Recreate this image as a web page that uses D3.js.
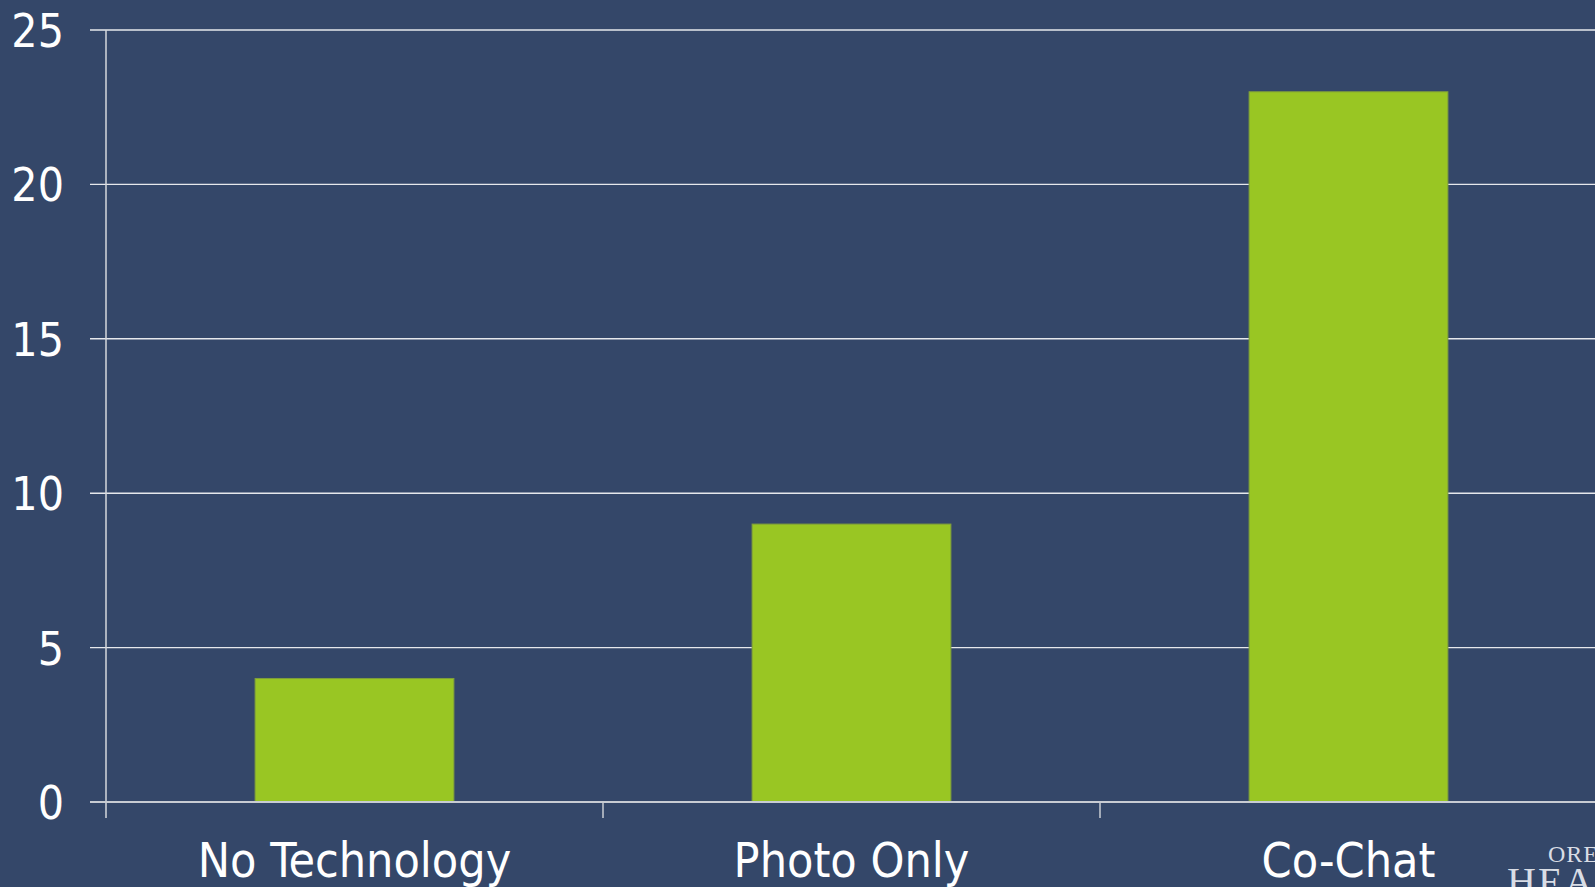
<!DOCTYPE html>
<html>
<head>
<meta charset="utf-8">
<script src="https://cdn.jsdelivr.net/npm/d3@7"></script>
<style>
  html, body { margin: 0; padding: 0; background: #344769; overflow: hidden; }
  svg { display: block; }
</style>
</head>
<body>
<script>
// Chart data
const categories = ["No Technology", "Photo Only", "Co-Chat"];
const values = [4, 9, 23];
const yTicks = [0, 5, 10, 15, 20, 25];

const W = 1595, H = 887;
const margin = { left: 106, top: 30, bottom: 85 };
const font = "'DejaVu Sans Condensed', 'DejaVu Sans', sans-serif";

const svg = d3.select("body").append("svg")
  .attr("width", W).attr("height", H);

svg.append("rect").attr("width", W).attr("height", H).attr("fill", "#344769");

const y = d3.scaleLinear().domain([0, 25]).range([H - margin.bottom, margin.top]);
const x = d3.scaleBand().domain(categories)
  .range([margin.left, margin.left + 3 * 497])
  .paddingInner(0.6).paddingOuter(0.3);

// Horizontal gridlines with short ticks to the left of the value axis
svg.append("g").selectAll("line")
  .data(yTicks.filter(d => d > 0))
  .join("line")
  .attr("x1", margin.left - 16).attr("x2", W)
  .attr("y1", d => y(d)).attr("y2", d => y(d))
  .attr("stroke", "#e6e8ec").attr("stroke-width", 1.4);

// Value axis line
svg.append("line")
  .attr("x1", margin.left).attr("x2", margin.left)
  .attr("y1", y(25)).attr("y2", y(0) + 16)
  .attr("stroke", "#d4d7dd").attr("stroke-width", 1.5);

// Value axis labels
const yAxis = d3.axisLeft(y).tickValues(yTicks).tickSize(0).tickPadding(0);
const gy = svg.append("g").attr("transform", `translate(${margin.left - 42},0)`).call(yAxis);
gy.select(".domain").remove();
gy.selectAll("text")
  .attr("fill", "#ffffff")
  .attr("font-family", font)
  .attr("font-size", 46)
  .attr("dy", "0.36em");

// Bars
svg.append("g").selectAll("rect")
  .data(categories.map((c, i) => ({ c, v: values[i] })))
  .join("rect")
  .attr("x", d => x(d.c))
  .attr("width", x.bandwidth())
  .attr("y", d => y(d.v))
  .attr("height", d => y(0) - y(d.v))
  .attr("fill", "#99c623")
  .attr("stroke", "#7f9e3c").attr("stroke-width", 1);

// Category baseline
svg.append("line")
  .attr("x1", margin.left - 16).attr("x2", W)
  .attr("y1", y(0)).attr("y2", y(0))
  .attr("stroke", "#c8ccd3").attr("stroke-width", 2);

// Category separators below the baseline
const step = x.step();
svg.append("g").selectAll("line")
  .data(categories.slice(1))
  .join("line")
  .attr("x1", d => x(d) - x.paddingOuter() * step)
  .attr("x2", d => x(d) - x.paddingOuter() * step)
  .attr("y1", y(0)).attr("y2", y(0) + 16)
  .attr("stroke", "#c8ccd3").attr("stroke-width", 1.5);

// Category labels
svg.append("g").selectAll("text")
  .data(categories)
  .join("text")
  .attr("x", d => x(d) + x.bandwidth() / 2)
  .attr("y", 877)
  .attr("text-anchor", "middle")
  .attr("fill", "#ffffff")
  .attr("font-family", font)
  .attr("font-size", 48)
  .text(d => d);

// Institution wordmark in the lower right corner, running off the page edge
const logo = svg.append("g").attr("fill", "#d9dde5").attr("font-family", "'Liberation Serif', serif");
logo.append("text").attr("x", 1548).attr("y", 862).attr("font-size", 24)
  .attr("letter-spacing", 1).text("OREGON");
logo.append("text").attr("x", 1507).attr("y", 895).attr("font-size", 40)
  .attr("letter-spacing", 2).text("HEALTH");
</script>
</body>
</html>
